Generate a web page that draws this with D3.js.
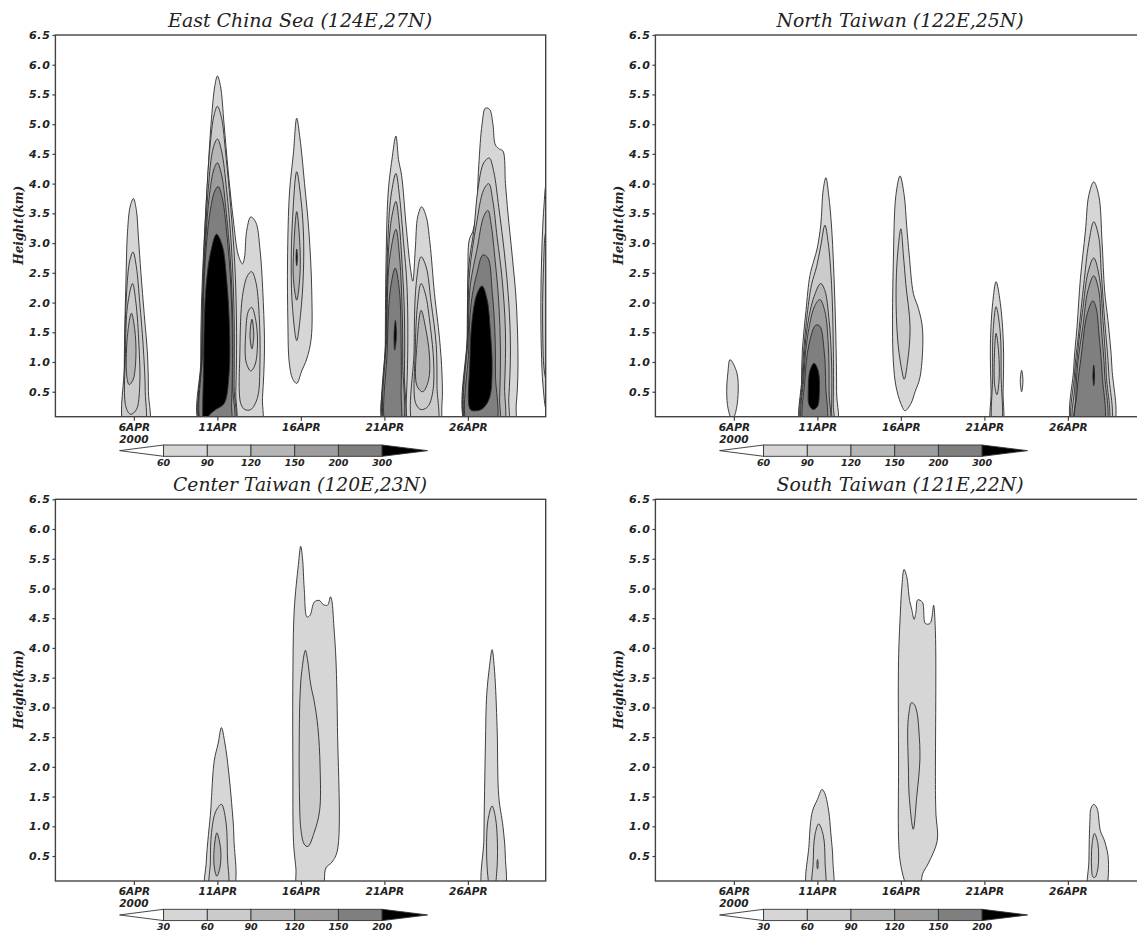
<!DOCTYPE html>
<html>
<head>
<meta charset="utf-8">
<script src="https://cdn.jsdelivr.net/npm/d3@7"></script>
<style>
  body { margin: 0; background: #fff; }
</style>
</head>
<body>
<svg id="chart" width="1137" height="931"></svg>
<script>
// data: axes
const heightTicks = [0.5, 1.0, 1.5, 2.0, 2.5, 3.0, 3.5, 4.0, 4.5, 5.0, 5.5, 6.0, 6.5];
const dayRange = [1.3, 30.66];      // days of April 2000 shown on x
const heightRange = [0.08, 6.5];    // km
const dateTicks = [6, 11, 16, 21, 26];
const dateLabels = ['6APR', '11APR', '16APR', '21APR', '26APR'];
const yearLabel = '2000';
const levelsUpper = [60, 90, 120, 150, 200, 300];
const levelsLower = [30, 60, 90, 120, 150, 200];
const shades = ['#d6d6d6', '#cbcbcb', '#b6b6b6', '#9d9d9d', '#7f7f7f', '#000000'];

// contour outlines: lvl = index of the lower bound, pts = [day, km]
const eastChinaSea = [
  {lvl: 0, pts: [[5.45,-0.1],[5.42,0.6],[5.45,1.5],[5.52,2.3],[5.62,3.2],[5.78,3.62],[5.97,3.75],[6.15,3.55],[6.27,3.1],[6.42,2.5],[6.62,1.8],[6.82,1.1],[6.87,0.5],[6.85,-0.1]]},
  {lvl: 1, pts: [[5.47,-0.1],[5.45,1.0],[5.55,2.1],[5.75,2.7],[5.95,2.85],[6.15,2.6],[6.35,2.0],[6.55,1.3],[6.68,0.5],[6.6,-0.1]]},
  {lvl: 1, pts: [[5.52,0.25],[5.5,1.2],[5.62,1.95],[5.92,2.32],[6.12,2.0],[6.3,1.3],[6.35,0.6],[6.15,0.2],[5.8,0.12]]},
  {lvl: 2, pts: [[5.58,0.75],[5.6,1.4],[5.85,1.82],[6.05,1.55],[6.12,1.1],[5.95,0.7],[5.72,0.62]]},
  {lvl: 0, pts: [[10.05,-0.1],[10.0,1.0],[10.05,2.0],[10.2,3.0],[10.4,4.0],[10.62,5.0],[10.85,5.65],[11.0,5.81],[11.18,5.65],[11.4,5.0],[11.65,4.2],[11.95,3.4],[12.25,2.8],[12.5,2.65],[12.62,2.75],[12.75,3.2],[13.0,3.44],[13.3,3.35],[13.55,2.9],[13.75,2.0],[13.82,1.2],[13.7,0.4],[13.55,-0.1]]},
  {lvl: 1, pts: [[10.08,-0.1],[10.05,1.0],[10.12,2.2],[10.3,3.5],[10.55,4.6],[10.8,5.15],[11.0,5.3],[11.25,5.1],[11.5,4.5],[11.8,3.6],[12.05,2.6],[12.15,1.5],[12.1,0.5],[12.0,-0.1]]},
  {lvl: 2, pts: [[10.1,-0.1],[10.08,1.2],[10.2,2.6],[10.45,3.9],[10.75,4.6],[11.0,4.75],[11.25,4.55],[11.55,3.9],[11.85,2.9],[12.0,1.8],[12.0,0.6],[11.95,-0.1]]},
  {lvl: 3, pts: [[10.12,-0.1],[10.1,1.2],[10.22,2.6],[10.5,3.75],[10.8,4.25],[11.0,4.35],[11.25,4.15],[11.5,3.6],[11.78,2.7],[11.92,1.7],[11.92,0.6],[11.88,-0.1]]},
  {lvl: 4, pts: [[10.15,-0.1],[10.12,1.2],[10.25,2.6],[10.55,3.5],[10.85,3.88],[11.05,3.95],[11.3,3.75],[11.55,3.2],[11.8,2.3],[11.9,1.3],[11.85,0.3],[11.75,-0.1]]},
  {lvl: 5, pts: [[10.2,-0.1],[10.18,1.0],[10.3,2.2],[10.6,2.85],[10.95,3.15],[11.3,2.95],[11.55,2.4],[11.72,1.6],[11.7,0.8],[11.4,0.3],[10.9,0.2],[10.5,0.1]]},
  {lvl: 1, pts: [[12.4,0.3],[12.35,1.2],[12.5,2.1],[12.8,2.45],[13.05,2.52],[13.3,2.35],[13.5,1.8],[13.55,1.0],[13.4,0.4],[13.0,0.2],[12.65,0.2]]},
  {lvl: 1, pts: [[12.72,1.0],[12.7,1.5],[12.85,1.85],[13.05,1.92],[13.3,1.7],[13.4,1.3],[13.25,0.95],[13.0,0.85]]},
  {lvl: 2, pts: [[12.95,1.45],[13.07,1.72],[13.18,1.45],[13.07,1.22]]},
  {lvl: 0, pts: [[15.75,5.1],[15.55,4.5],[15.32,3.86],[15.2,2.7],[15.22,1.7],[15.3,1.0],[15.5,0.72],[15.75,0.64],[16.05,0.85],[16.35,1.05],[16.62,1.4],[16.65,2.2],[16.48,3.2],[16.22,4.0],[15.95,4.75]]},
  {lvl: 1, pts: [[15.75,4.2],[15.5,3.4],[15.42,2.6],[15.5,1.9],[15.75,1.36],[15.98,1.8],[16.15,2.5],[16.15,3.2],[15.98,3.8]]},
  {lvl: 2, pts: [[15.75,3.53],[15.57,2.9],[15.55,2.4],[15.75,2.04],[15.93,2.4],[15.95,2.9]]},
  {lvl: 5, pts: [[15.75,2.9],[15.71,2.76],[15.75,2.62],[15.79,2.76]]},
  {lvl: 0, pts: [[21.05,-0.1],[21.05,1.0],[21.1,2.7],[21.23,3.86],[21.45,4.4],[21.69,4.8],[21.85,4.4],[22.03,4.14],[22.3,3.3],[22.55,2.6],[22.7,2.36],[22.85,2.9],[23.0,3.45],[23.23,3.61],[23.5,3.45],[23.73,3.0],[24.0,2.15],[24.3,1.4],[24.45,0.8],[24.45,0.3],[24.2,-0.1]]},
  {lvl: 1, pts: [[21.08,-0.1],[21.1,1.5],[21.2,3.0],[21.4,3.8],[21.69,4.17],[21.9,3.8],[22.15,3.0],[22.35,2.3],[22.4,1.2],[22.3,0.3],[22.2,-0.1]]},
  {lvl: 2, pts: [[21.1,-0.1],[21.12,1.5],[21.25,2.9],[21.45,3.45],[21.69,3.7],[21.88,3.35],[22.05,2.7],[22.2,1.8],[22.2,0.8],[22.1,-0.1]]},
  {lvl: 3, pts: [[21.12,-0.1],[21.15,1.5],[21.3,2.7],[21.69,3.23],[21.9,2.8],[22.05,2.0],[22.1,1.0],[22.0,-0.1]]},
  {lvl: 4, pts: [[21.15,-0.1],[21.17,1.2],[21.35,2.2],[21.65,2.58],[21.9,2.2],[22.0,1.4],[22.0,0.5],[21.9,-0.1]]},
  {lvl: 5, pts: [[21.62,1.2],[21.58,1.45],[21.66,1.7],[21.72,1.45]]},
  {lvl: 1, pts: [[22.8,-0.1],[22.78,1.2],[22.9,2.3],[23.2,2.77],[23.5,2.6],[23.8,2.0],[24.1,1.3],[24.15,0.6],[24.1,-0.1]]},
  {lvl: 1, pts: [[22.88,0.3],[22.85,1.2],[22.98,1.95],[23.2,2.32],[23.45,2.15],[23.75,1.6],[23.95,1.0],[23.9,0.5],[23.6,0.25],[23.2,0.2]]},
  {lvl: 2, pts: [[22.95,0.6],[22.95,1.3],[23.2,1.87],[23.45,1.6],[23.7,1.1],[23.65,0.7],[23.3,0.5]]},
  {lvl: 0, pts: [[25.95,-0.1],[25.95,1.0],[26.0,2.4],[26.08,3.05],[26.3,3.2],[26.5,3.5],[26.65,4.3],[26.85,5.0],[27.05,5.27],[27.3,5.25],[27.5,5.0],[27.65,4.65],[27.9,4.58],[28.1,4.55],[28.25,4.0],[28.4,3.5],[28.65,2.8],[28.9,2.0],[29.0,0.9],[28.9,0.3],[28.7,-0.1]]},
  {lvl: 1, pts: [[25.97,-0.1],[25.98,1.5],[26.05,2.6],[26.35,3.2],[26.6,3.9],[26.95,4.35],[27.28,4.43],[27.55,4.2],[27.85,3.6],[28.2,2.8],[28.45,2.0],[28.55,1.2],[28.45,0.4],[28.3,-0.1]]},
  {lvl: 2, pts: [[26.0,-0.1],[26.0,1.5],[26.1,2.5],[26.5,3.3],[26.95,3.9],[27.25,4.0],[27.5,3.7],[27.75,3.1],[28.05,2.4],[28.25,1.5],[28.2,0.6],[28.05,-0.1]]},
  {lvl: 3, pts: [[26.03,-0.1],[26.03,1.5],[26.15,2.3],[26.55,2.9],[26.95,3.45],[27.2,3.55],[27.4,3.3],[27.6,2.8],[27.85,2.0],[27.95,1.2],[27.9,0.4],[27.8,-0.1]]},
  {lvl: 4, pts: [[26.05,-0.1],[26.05,1.2],[26.2,2.0],[26.55,2.5],[26.9,2.8],[27.2,2.75],[27.45,2.2],[27.62,1.5],[27.65,0.8],[27.6,-0.1]]},
  {lvl: 5, pts: [[26.15,0.2],[26.12,1.0],[26.25,1.7],[26.55,2.15],[26.85,2.28],[27.15,2.05],[27.35,1.5],[27.45,0.9],[27.3,0.4],[26.9,0.22],[26.5,0.18]]},
  {lvl: 0, pts: [[30.7,4.0],[30.55,3.6],[30.42,2.8],[30.37,2.0],[30.4,1.2],[30.5,0.6],[30.7,0.2],[31.0,0.5],[31.0,3.6]]},
  {lvl: 1, pts: [[30.7,3.2],[30.52,2.5],[30.48,1.5],[30.6,0.8],[30.8,0.6],[31.0,1.0],[31.0,3.0]]}
];

const northTaiwan = [
  {lvl: 0, pts: [[5.77,1.04],[5.64,0.82],[5.57,0.5],[5.65,0.22],[5.9,0.02],[6.1,0.15],[6.25,0.45],[6.18,0.82]]},
  {lvl: 0, pts: [[10.06,-0.1],[10.05,0.6],[10.1,1.2],[10.32,1.87],[10.55,2.45],[10.8,2.72],[10.98,2.9],[11.2,3.3],[11.35,3.9],[11.51,4.1],[11.68,3.8],[11.85,3.27],[12.0,2.4],[12.1,1.5],[12.15,0.5],[12.1,-0.1]]},
  {lvl: 1, pts: [[10.1,-0.1],[10.1,0.8],[10.35,1.7],[10.65,2.3],[10.95,2.6],[11.2,2.95],[11.45,3.3],[11.65,3.0],[11.85,2.3],[11.95,1.3],[11.95,0.3],[11.9,-0.1]]},
  {lvl: 2, pts: [[10.15,-0.1],[10.15,0.8],[10.4,1.6],[10.8,2.1],[11.2,2.32],[11.45,2.2],[11.7,1.7],[11.85,1.0],[11.85,0.2],[11.8,-0.1]]},
  {lvl: 3, pts: [[10.2,-0.1],[10.2,0.8],[10.45,1.5],[10.85,1.95],[11.15,2.05],[11.45,1.85],[11.65,1.3],[11.7,0.5],[11.65,-0.1]]},
  {lvl: 4, pts: [[10.25,-0.1],[10.25,0.7],[10.5,1.3],[10.9,1.62],[11.15,1.6],[11.4,1.2],[11.5,0.6],[11.45,-0.1]]},
  {lvl: 5, pts: [[10.45,0.5],[10.55,0.85],[10.8,0.98],[11.05,0.85],[11.12,0.5],[11.0,0.25],[10.75,0.2],[10.5,0.28]]},
  {lvl: 0, pts: [[15.95,4.13],[15.7,3.8],[15.55,2.71],[15.5,1.59],[15.55,1.0],[15.7,0.6],[16.0,0.3],[16.25,0.18],[16.6,0.3],[16.85,0.5],[17.15,0.75],[17.3,1.54],[17.05,1.9],[16.75,2.15],[16.5,2.8],[16.35,3.28],[16.2,3.8]]},
  {lvl: 1, pts: [[16.0,3.24],[15.8,2.8],[15.71,2.15],[15.8,1.4],[16.0,0.95],[16.2,0.71],[16.4,1.0],[16.55,1.59],[16.3,2.3],[16.15,2.8]]},
  {lvl: 0, pts: [[21.7,2.35],[21.5,2.0],[21.36,1.3],[21.4,0.5],[21.44,-0.1],[22.04,-0.1],[22.12,0.5],[22.14,1.3],[21.95,2.0]]},
  {lvl: 1, pts: [[21.7,1.93],[21.52,1.5],[21.5,0.8],[21.55,-0.1],[21.95,-0.1],[22.0,0.8],[21.95,1.5]]},
  {lvl: 1, pts: [[21.7,1.48],[21.6,1.1],[21.62,0.6],[21.75,0.45],[21.88,0.7],[21.86,1.15]]},
  {lvl: 0, pts: [[23.23,0.86],[23.15,0.68],[23.23,0.5],[23.31,0.68]]},
  {lvl: 0, pts: [[27.55,4.03],[27.25,3.8],[27.05,3.2],[26.75,2.4],[26.55,1.6],[26.35,0.9],[26.33,-0.1],[28.64,-0.1],[28.64,0.9],[28.4,1.7],[28.2,2.2],[28.05,3.0],[27.85,3.8]]},
  {lvl: 1, pts: [[27.55,3.36],[27.25,3.0],[26.95,2.3],[26.65,1.5],[26.4,0.8],[26.38,-0.1],[28.45,-0.1],[28.45,0.8],[28.2,1.7],[28.0,2.5],[27.85,3.1]]},
  {lvl: 2, pts: [[27.55,2.75],[27.2,2.5],[26.9,1.9],[26.6,1.2],[26.42,0.6],[26.42,-0.1],[28.3,-0.1],[28.3,0.8],[28.1,1.7],[27.9,2.4]]},
  {lvl: 3, pts: [[27.55,2.45],[27.2,2.2],[26.9,1.6],[26.6,1.0],[26.47,0.4],[26.47,-0.1],[28.2,-0.1],[28.2,0.8],[28.0,1.6],[27.85,2.2]]},
  {lvl: 4, pts: [[27.5,2.03],[27.15,1.8],[26.8,1.1],[26.55,0.5],[26.52,-0.1],[28.05,-0.1],[28.05,0.8],[27.85,1.5],[27.7,1.9]]},
  {lvl: 5, pts: [[27.55,0.95],[27.5,0.77],[27.55,0.6],[27.6,0.77]]}
];

const centerTaiwan = [
  {lvl: 0, pts: [[11.24,2.66],[11.05,2.4],[10.81,2.1],[10.65,1.5],[10.6,1.26],[10.34,0.42],[10.35,-0.1],[11.88,-0.1],[11.99,0.8],[11.85,1.4],[11.67,1.93],[11.45,2.4]]},
  {lvl: 1, pts: [[11.24,1.37],[10.9,1.25],[10.65,0.9],[10.58,0.4],[10.6,-0.1],[11.55,-0.1],[11.6,0.5],[11.5,1.1]]},
  {lvl: 2, pts: [[10.97,0.89],[10.8,0.6],[10.82,0.3],[10.97,0.16],[11.15,0.3],[11.2,0.6]]},
  {lvl: 0, pts: [[15.99,5.71],[15.85,5.4],[15.6,4.63],[15.52,3.5],[15.52,2.0],[15.56,0.73],[15.7,0.3],[15.84,-0.1],[17.23,-0.1],[17.5,0.3],[17.87,0.4],[18.19,0.6],[18.19,2.66],[18.1,3.8],[17.98,4.35],[17.85,4.8],[17.77,4.86],[17.6,4.72],[17.34,4.73],[17.1,4.8],[16.8,4.77],[16.55,4.55],[16.37,4.52],[16.2,5.0],[16.1,5.5]]},
  {lvl: 1, pts: [[16.27,3.96],[16.05,3.6],[15.95,3.2],[15.9,2.4],[15.91,1.6],[16.0,0.95],[16.2,0.7],[16.42,0.66],[16.8,0.9],[17.12,1.26],[17.15,2.0],[17.02,2.66],[16.8,3.1],[16.59,3.38],[16.4,3.8]]},
  {lvl: 0, pts: [[27.45,3.97],[27.3,3.7],[27.13,3.22],[27.05,2.4],[27.0,1.6],[26.96,0.8],[26.96,-0.1],[28.14,-0.1],[28.24,0.5],[28.1,1.0],[27.85,1.5],[27.75,2.66],[27.6,3.6]]},
  {lvl: 1, pts: [[27.45,1.34],[27.2,1.1],[27.12,0.6],[27.2,0.15],[27.35,-0.1],[27.55,-0.1],[27.72,0.2],[27.77,0.7],[27.65,1.15]]}
];

const southTaiwan = [
  {lvl: 0, pts: [[11.28,1.62],[11.0,1.45],[10.7,1.25],[10.5,0.69],[10.46,-0.1],[11.84,-0.1],[11.93,0.41],[11.8,0.9],[11.68,1.25],[11.45,1.55]]},
  {lvl: 1, pts: [[11.08,1.04],[10.85,0.85],[10.75,0.4],[10.75,-0.1],[11.4,-0.1],[11.46,0.4],[11.35,0.85]]},
  {lvl: 2, pts: [[11.01,0.44],[10.97,0.36],[11.01,0.28],[11.05,0.36]]},
  {lvl: 0, pts: [[16.19,5.32],[16.05,5.0],[15.97,4.6],[15.86,3.79],[15.86,2.0],[15.86,0.8],[15.95,0.42],[16.2,0.1],[16.48,-0.1],[17.08,-0.1],[17.3,0.2],[17.63,0.37],[18.18,0.76],[18.1,1.2],[18.07,1.6],[18.07,4.25],[17.96,4.72],[17.85,4.5],[17.74,4.41],[17.47,4.41],[17.35,4.7],[17.29,4.77],[17.01,4.81],[16.9,4.6],[16.79,4.48],[16.65,4.65],[16.52,4.8],[16.35,5.2]]},
  {lvl: 1, pts: [[16.63,3.08],[16.48,2.9],[16.41,2.66],[16.45,2.0],[16.5,1.5],[16.74,0.95],[16.95,1.5],[17.14,2.13],[17.08,2.6],[16.96,2.92],[16.8,3.05]]},
  {lvl: 0, pts: [[27.55,1.37],[27.38,1.3],[27.32,1.1],[27.26,0.42],[27.26,-0.1],[28.16,-0.1],[28.43,0.42],[28.2,0.75],[27.94,0.93],[27.75,1.3]]},
  {lvl: 1, pts: [[27.59,0.88],[27.45,0.7],[27.42,0.3],[27.5,0.15],[27.62,0.14],[27.8,0.3],[27.8,0.7]]}
];

const panels = [
  {title: 'East China Sea (124E,27N)', contours: eastChinaSea, levels: levelsUpper, ox: 55.4, oy: 35, tw: 264},
  {title: 'North Taiwan (122E,25N)', contours: northTaiwan, levels: levelsUpper, ox: 655.4, oy: 35, tw: 247},
  {title: 'Center Taiwan (120E,23N)', contours: centerTaiwan, levels: levelsLower, ox: 55.4, oy: 499.3, tw: 254},
  {title: 'South Taiwan (121E,22N)', contours: southTaiwan, levels: levelsLower, ox: 655.4, oy: 499.3, tw: 247}
];

// layout
const W = 1137, H = 931;
const pw = 490.3, ph = 381.7;
const sans = "'DejaVu Sans', Verdana, sans-serif";
const serif = "'DejaVu Serif', 'Liberation Serif', serif";

const svg = d3.select('#chart');

panels.forEach((p, i) => {
  const x = d3.scaleLinear().domain(dayRange).range([p.ox, p.ox + pw]);
  const y = d3.scaleLinear().domain(heightRange).range([p.oy + ph, p.oy]);
  const g = svg.append('g').attr('class', 'panel');

  g.append('clipPath').attr('id', 'clip' + i)
    .append('rect').attr('x', p.ox).attr('y', p.oy).attr('width', pw).attr('height', ph);

  const line = d3.line()
    .x(d => x(d[0]))
    .y(d => y(d[1]))
    .curve(d3.curveCatmullRomClosed.alpha(0.5));

  g.append('g').attr('clip-path', `url(#clip${i})`)
    .selectAll('path')
    .data(p.contours)
    .enter().append('path')
    .attr('d', d => line(d.pts))
    .attr('fill', d => shades[d.lvl])
    .attr('stroke', '#2b2b2b')
    .attr('stroke-width', 0.9);

  // frame
  g.append('rect')
    .attr('x', p.ox).attr('y', p.oy).attr('width', pw).attr('height', ph)
    .attr('fill', 'none').attr('stroke', '#444').attr('stroke-width', 1.4);

  // y axis
  const gy = g.append('g').attr('transform', `translate(${p.ox},0)`)
    .call(d3.axisLeft(y).tickValues(heightTicks).tickFormat(d3.format('.1f')).tickSize(3).tickPadding(2));
  gy.select('.domain').remove();
  gy.selectAll('line').attr('stroke', '#444').attr('stroke-width', 1.2);
  gy.selectAll('text')
    .attr('font-family', sans).attr('font-size', 11).attr('font-weight', 'bold')
    .attr('font-style', 'italic').attr('fill', '#222').attr('letter-spacing', 0.6);

  // x axis
  const gx = g.append('g').attr('transform', `translate(0,${p.oy + ph})`)
    .call(d3.axisBottom(x).tickValues(dateTicks).tickFormat((d, k) => dateLabels[k]).tickSize(4).tickPadding(3));
  gx.select('.domain').remove();
  gx.selectAll('line').attr('stroke', '#444').attr('stroke-width', 1.2);
  gx.selectAll('text')
    .attr('font-family', sans).attr('font-size', 10.5).attr('font-weight', 'bold')
    .attr('font-style', 'italic').attr('fill', '#222');
  g.append('text')
    .attr('x', x(dateTicks[0])).attr('y', p.oy + ph + 26)
    .attr('text-anchor', 'middle')
    .attr('font-family', sans).attr('font-size', 10.5).attr('font-weight', 'bold')
    .attr('font-style', 'italic').attr('fill', '#222')
    .text(yearLabel);

  // title
  g.append('text')
    .attr('x', p.ox + pw * 0.5 - 0.5).attr('y', p.oy - 8)
    .attr('text-anchor', 'middle')
    .attr('font-family', serif).attr('font-style', 'italic').attr('font-size', 18)
    .attr('fill', '#222')
    .attr('textLength', p.tw).attr('lengthAdjust', 'spacingAndGlyphs')
    .text(p.title);

  // y label
  g.append('text')
    .attr('transform', `translate(${p.ox - 37},${y(3.3)}) rotate(-90)`)
    .attr('text-anchor', 'middle').attr('dy', '0.35em')
    .attr('font-family', serif).attr('font-style', 'italic').attr('font-weight', 'bold')
    .attr('font-size', 13).attr('fill', '#222')
    .attr('textLength', 79).attr('lengthAdjust', 'spacingAndGlyphs')
    .text('Height(km)');

  // colour bar
  const cb = d3.scaleLinear().domain([0, p.levels.length - 1]).range([p.ox + 108.2, p.ox + 326.7]);
  const cy = p.oy + ph + 28.3, chh = 11.3;
  const bar = g.append('g');
  bar.append('path')
    .attr('d', `M${cb(0)},${cy}L${p.ox + 64.2},${cy + chh / 2}L${cb(0)},${cy + chh}Z`)
    .attr('fill', '#fff').attr('stroke', '#333').attr('stroke-width', 0.9);
  bar.selectAll('rect')
    .data(d3.range(p.levels.length - 1))
    .enter().append('rect')
    .attr('x', d => cb(d)).attr('y', cy)
    .attr('width', d => cb(d + 1) - cb(d)).attr('height', chh)
    .attr('fill', d => shades[d]).attr('stroke', '#333').attr('stroke-width', 0.9);
  bar.append('path')
    .attr('d', `M${cb(p.levels.length - 1)},${cy}L${p.ox + 372.1},${cy + chh / 2}L${cb(p.levels.length - 1)},${cy + chh}Z`)
    .attr('fill', shades[5]).attr('stroke', '#333').attr('stroke-width', 0.9);
  bar.selectAll('text')
    .data(p.levels)
    .enter().append('text')
    .attr('x', (d, k) => cb(k)).attr('y', cy + 21)
    .attr('text-anchor', 'middle')
    .attr('font-family', sans).attr('font-size', 9.5).attr('font-weight', 'bold')
    .attr('font-style', 'italic').attr('fill', '#222')
    .text(d => d);
});
</script>
</body>
</html>
